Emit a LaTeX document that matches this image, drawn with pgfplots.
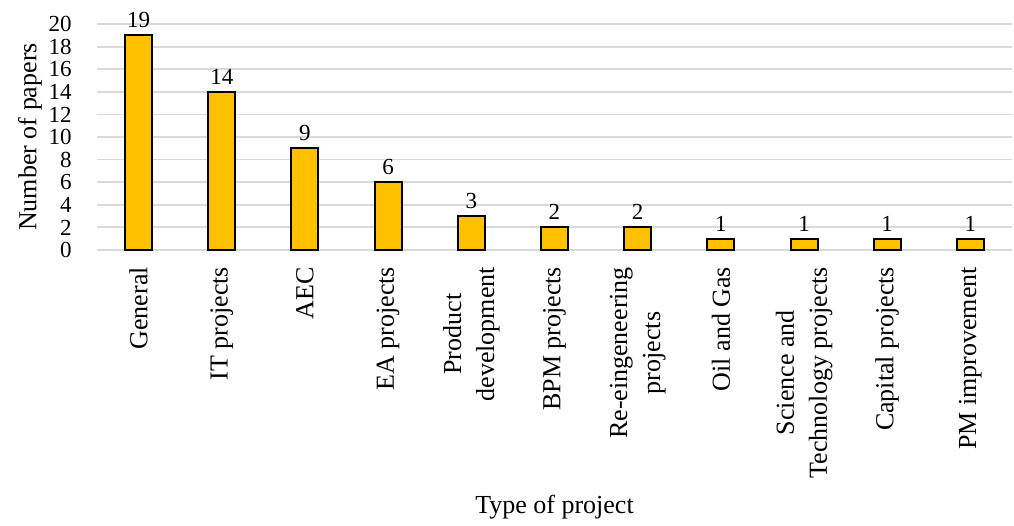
\documentclass[border=0pt]{standalone}
\usepackage{fontspec}
\setmainfont{Liberation Serif}
\usepackage{pgfplots}
\pgfplotsset{compat=1.18}
\definecolor{barc}{HTML}{FFC000}
\definecolor{gridc}{HTML}{D9D9D9}
\begin{document}
\begin{tikzpicture}[font=\fontsize{13}{16.5}\selectfont]
\path (-48.5pt,-136.5pt) rectangle (458.5pt,125pt);
\begin{axis}[
  at={(0,0)}, anchor=south west, scale only axis,
  width=457.5pt, height=113pt,
  xmin=-0.5, xmax=10.5, ymin=0, ymax=20,
  enlargelimits=false,
  ytick={0,2,...,20}, xtick=data,
  xticklabels={General, IT projects, AEC, EA projects, {Product\\development}, BPM projects, {Re-eingeneering\\projects}, Oil and Gas, {Science and\\Technology projects}, Capital projects, PM improvement},
  xticklabel style={rotate=90, anchor=east, align=center, xshift=-5pt},
  yticklabel style={inner sep=0pt, xshift=-12.5pt, font=\fontsize{11.5}{13}\selectfont},
  /pgf/number format/assume math mode=true,
  major tick length=0,
  axis x line*=bottom, axis y line*=left,
  x axis line style={draw=gridc, line width=1pt, -},
  y axis line style={draw=none, -},
  ymajorgrids, grid style={draw=gridc, line width=0.9pt},
  ylabel={Number of papers},
  ylabel style={at={(axis description cs:0,0.5)}, anchor=center, yshift=33.5pt},
  xlabel={Type of project},
  xlabel style={at={(axis description cs:0.5,0)}, anchor=center, yshift=-128.5pt},
  ybar, bar width=13.5pt,
  nodes near coords,
  every node near coord/.append style={font=\fontsize{11.5}{13}\selectfont, black},
  clip=false,
]
\addplot[fill=barc, draw=black, line width=1pt] coordinates {
  (0,19) (1,14) (2,9) (3,6) (4,3) (5,2) (6,2) (7,1) (8,1) (9,1) (10,1)
};
\end{axis}
\end{tikzpicture}
\end{document}
